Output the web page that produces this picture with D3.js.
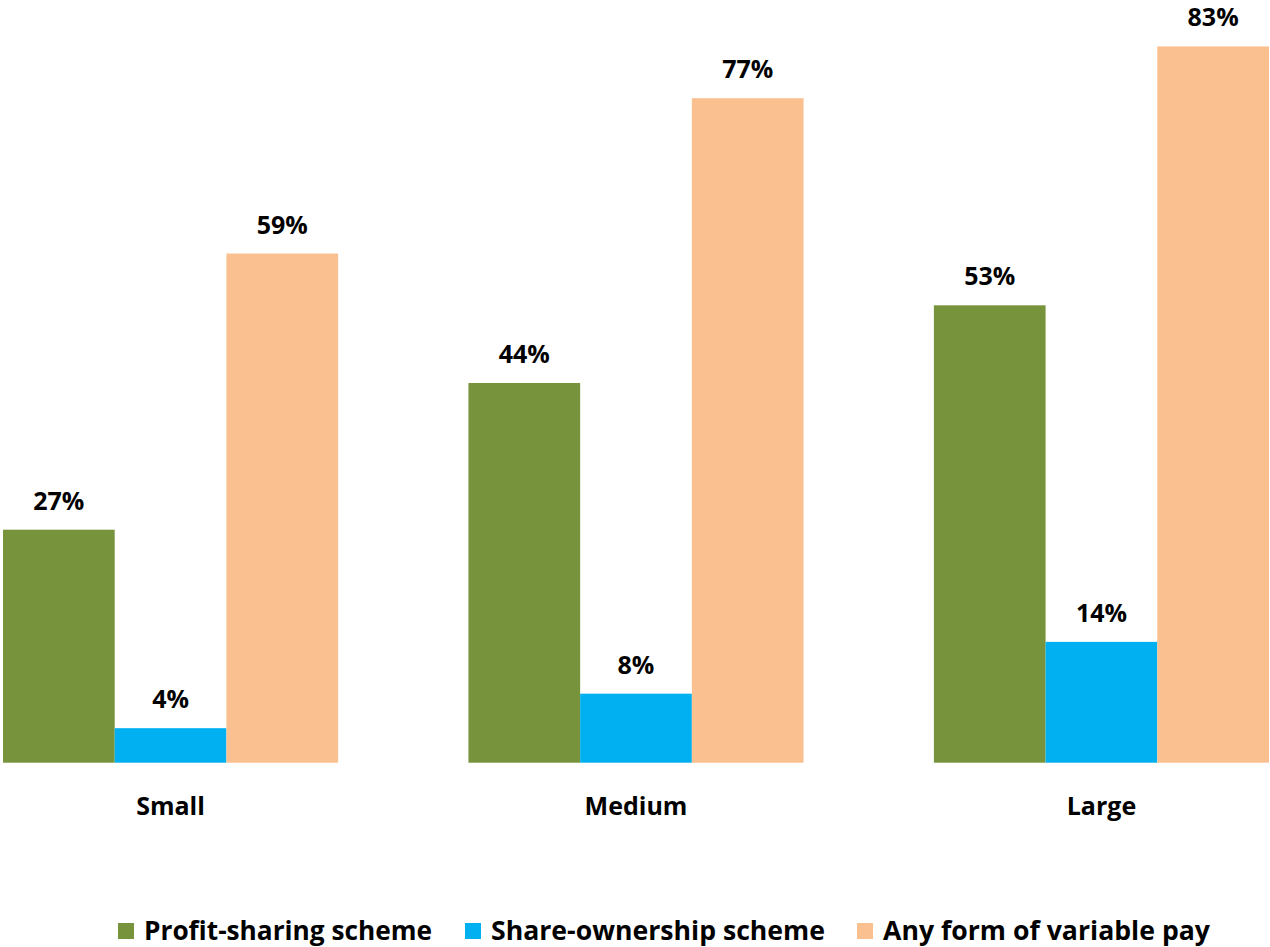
<!DOCTYPE html>
<html>
<head>
<meta charset="utf-8">
<script src="https://cdn.jsdelivr.net/npm/d3@7"></script>
<style>
  body { margin: 0; background: #fff; }
  text { font-family: "Open Sans", "Noto Sans", sans-serif; font-weight: bold; fill: #000; }
</style>
</head>
<body>
<svg></svg>
<script>
var width = 1270;
var height = 947;

// Data
var categories = ['Small', 'Medium', 'Large'];
var seriesNames = ['Profit-sharing scheme', 'Share-ownership scheme', 'Any form of variable pay'];
var profitSharing = [27, 44, 53];
var shareOwnership = [4, 8, 14];
var variablePay = [59, 77, 83];

var colors = ['#77933C', '#00B0F0', '#FAC090'];
var seriesValues = [profitSharing, shareOwnership, variablePay];

var svg = d3.select('svg')
            .attr('width', width)
            .attr('height', height);

var x0 = d3.scaleBand()
            .domain(categories)
            .range([3, 1269])
            .paddingInner(0.28)
            .paddingOuter(0);

var x1 = d3.scaleBand()
            .domain(seriesNames)
            .range([0, x0.bandwidth()]);

var y = d3.scaleLinear()
            .domain([0, 100])
            .range([762.7, -100.3]);

var rows = [];
categories.forEach((c, i) => {
    seriesNames.forEach((s, j) => {
        rows.push({cat: c, series: s, idx: j, value: seriesValues[j][i]});
    });
});

svg.append('g')
    .classed('bars', true)
    .selectAll('rect')
    .data(rows)
    .enter()
    .append('rect')
        .attr('x', d => x0(d.cat) + x1(d.series))
        .attr('y', d => y(d.value))
        .attr('width', x1.bandwidth())
        .attr('height', d => y(0) - y(d.value))
        .attr('fill', d => colors[d.idx]);

// value labels
svg.append('g')
    .selectAll('text')
    .data(rows)
    .enter()
    .append('text')
        .attr('x', d => x0(d.cat) + x1(d.series) + x1.bandwidth() / 2)
        .attr('y', d => y(d.value) - 20)
        .style('text-anchor', 'middle')
        .style('font-size', '25px')
        .text(d => d.value + '%');

// category labels
svg.append('g')
    .selectAll('text')
    .data(categories)
    .enter()
    .append('text')
        .attr('x', d => x0(d) + x0.bandwidth() / 2)
        .attr('y', 815)
        .style('text-anchor', 'middle')
        .style('font-size', '25px')
        .text(d => d);

// legend
var legendX = [118, 465, 857];
var legendW = [288, 334, 327];
var legend = svg.append('g').classed('legend', true);

var items = legend.selectAll('g')
    .data(seriesNames)
    .enter()
    .append('g')
        .attr('transform', (d, i) => `translate(${legendX[i]}, 0)`);

items.append('rect')
    .attr('x', 0)
    .attr('y', 923)
    .attr('width', 16)
    .attr('height', 16)
    .attr('fill', (d, i) => colors[i]);

items.append('text')
    .attr('x', (d, i) => [26, 26, 26][i])
    .attr('y', 940)
    .style('font-size', '27px')
    .attr('textLength', (d, i) => legendW[i])
    .attr('lengthAdjust', 'spacingAndGlyphs')
    .text(d => d);
</script>
</body>
</html>
